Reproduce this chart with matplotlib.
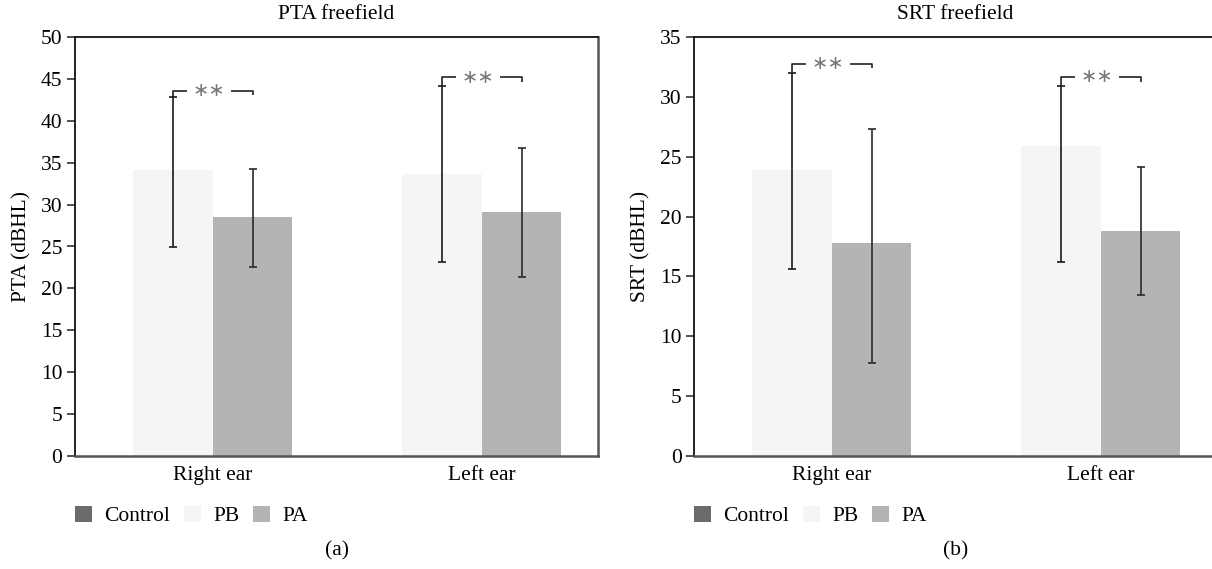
import matplotlib
matplotlib.use("Agg")
import matplotlib.pyplot as plt
import numpy as np
from matplotlib.patches import Patch

plt.rcParams['font.family'] = ['Liberation Serif', 'DejaVu Serif']

# ---- data ----
groups = ["Right ear", "Left ear"]
series = ["Control", "PB", "PA"]

pta_pb = [34.1, 33.65]
pta_pb_lo = [24.9, 23.1]
pta_pb_hi = [42.8, 44.2]
pta_pa = [28.5, 29.1]
pta_pa_lo = [22.6, 21.4]
pta_pa_hi = [34.2, 36.7]
pta_bracket = [43.6, 45.2]
pta_bracket_end = [43.1, 44.6]

srt_pb = [23.9, 25.9]
srt_pb_lo = [15.65, 16.2]
srt_pb_hi = [32.0, 30.9]
srt_pa = [17.8, 18.8]
srt_pa_lo = [7.77, 13.45]
srt_pa_hi = [27.3, 24.1]
srt_bracket = [32.75, 31.7]
srt_bracket_end = [32.4, 31.2]

pta_yticks = list(range(0, 51, 5))
srt_yticks = list(range(0, 36, 5))

colors = {"Control": "#6b6b6b", "PB": "#f4f5f4", "PA": "#b3b4b3"}

W, H = 1212, 569
fig = plt.figure(figsize=(W / 100, H / 100), dpi=100)
fig.patch.set_facecolor("white")

FS = 15.5


def panel(ax, title, ylabel, pb, pb_lo, pb_hi, pa, pa_lo, pa_hi, br, br_end, yticks, letter, leg_x):
    x = np.arange(len(groups))
    w = 0.296
    ax.bar([], [], color=colors["Control"], label="Control")
    ax.bar(x - w / 2, pb, w, color=colors["PB"], label="PB", zorder=2)
    ax.bar(x + w / 2, pa, w, color=colors["PA"], label="PA", zorder=2)
    pb = np.array(pb); pa = np.array(pa)
    ax.errorbar(x - w / 2, pb, yerr=[pb - np.array(pb_lo), np.array(pb_hi) - pb],
                fmt="none", ecolor="#1a1a1a", elinewidth=1.2, capsize=2.8, capthick=1.2, zorder=3)
    ax.errorbar(x + w / 2, pa, yerr=[pa - np.array(pa_lo), np.array(pa_hi) - pa],
                fmt="none", ecolor="#2a2a2a", elinewidth=1.2, capsize=2.8, capthick=1.2, zorder=3)
    for i in range(len(groups)):
        xl, xr = x[i] - w / 2, x[i] + w / 2
        ax.plot([xl, xl, xr, xr], [pb_hi[i], br[i], br[i], br_end[i]],
                color="#222222", lw=1.2, zorder=3, solid_capstyle="butt")
        ax.text((xl + xr) / 2 - 0.015, br[i], "\u2217\u2217", ha="center", va="center",
                fontsize=14, color="#777777", zorder=4, family="DejaVu Sans",
                bbox=dict(boxstyle="square,pad=0.3", fc="white", ec="none"))
    ax.set_xlim(-0.512, 1.432)
    ax.set_ylim(yticks[0], yticks[-1])
    ax.set_yticks(yticks)
    ax.set_xticks(x)
    ax.set_xticklabels(groups, fontsize=FS)
    ax.tick_params(axis="x", length=0, pad=7)
    ax.tick_params(axis="y", length=6, width=1.2, labelsize=FS, pad=3, color="#333333")
    for s in ["left", "top"]:
        ax.spines[s].set_color("#111111")
        ax.spines[s].set_linewidth(1.3)
    for s in ["right", "bottom"]:
        ax.spines[s].set_color("#555555")
        ax.spines[s].set_linewidth(1.8)
    ax.set_title(title, fontsize=FS, pad=13)
    ax.set_ylabel(ylabel, fontsize=FS, labelpad=7)
    handles = [Patch(facecolor=colors[s], edgecolor="none") for s in series]
    fig.legend(handles, series, loc="center left", bbox_to_anchor=(leg_x / W, 1 - 516 / H),
               ncol=3, frameon=False, fontsize=FS, handlelength=0.8, handleheight=0.8,
               handletextpad=0.55, columnspacing=0.65, borderaxespad=0, borderpad=0)
    pos = ax.get_position()
    fig.text(pos.x0 + pos.width / 2, 1 - 551 / H, letter, ha="center", va="center", fontsize=FS)


ax1 = fig.add_axes([75 / W, (H - 456) / H, 523 / W, 419 / H])
ax2 = fig.add_axes([694 / W, (H - 456) / H, 523 / W, 419 / H])

panel(ax1, "PTA freefield", "PTA (dBHL)", pta_pb, pta_pb_lo, pta_pb_hi, pta_pa, pta_pa_lo,
      pta_pa_hi, pta_bracket, pta_bracket_end, pta_yticks, "(a)", 75)
panel(ax2, "SRT freefield", "SRT (dBHL)", srt_pb, srt_pb_lo, srt_pb_hi, srt_pa, srt_pa_lo,
      srt_pa_hi, srt_bracket, srt_bracket_end, srt_yticks, "(b)", 694)

fig.savefig("out.png", dpi=100, facecolor="white")
